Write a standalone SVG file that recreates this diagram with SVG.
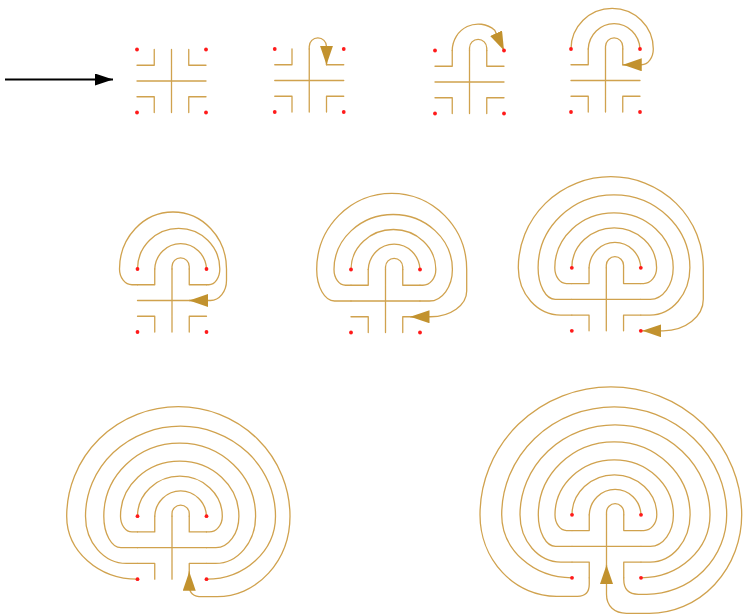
<svg xmlns="http://www.w3.org/2000/svg" xmlns:xlink="http://www.w3.org/1999/xlink" width="743" height="616" viewBox="0 0 743 616">
<style>
.w{fill:none;stroke:#d0a24e;stroke-width:1.3;stroke-linecap:round;stroke-linejoin:round}
.d{fill:#ff1a1a;stroke:none}
</style>
<defs>
<marker id="ah" viewBox="0 0 19 13" refX="19" refY="6.5" markerWidth="19" markerHeight="13" markerUnits="userSpaceOnUse" orient="auto"><path d="M0,0L19,6.5L0,13z" fill="#c2922e" stroke="none"/></marker>
<marker id="bk" viewBox="0 0 18 12" refX="18" refY="6" markerWidth="18" markerHeight="12" markerUnits="userSpaceOnUse" orient="auto"><path d="M0,0L18,6L0,12z" fill="#000"/></marker>
<path id="seed" d="M0,-31.5V31.5M-34.5,0H34.5M-17.25,-31.5V-15.75H-34.5M17.25,-31.5V-15.75H34.5M-34.5,15.75H-17.25V31.5M34.5,15.75H17.25V31.5"/>
<g id="dots" class="d"><circle cx="-34.5" cy="-31.5" r="1.9"/><circle cx="34.5" cy="-31.5" r="1.9"/><circle cx="-34.5" cy="31.5" r="1.9"/><circle cx="34.5" cy="31.5" r="1.9"/></g>
<path id="rA" d="M0,-31.5V-34A8.6,8.6 0 0 1 17.25,-34V-31.5"/>
<path id="rB" d="M-17.25,-31.5A25.9,26.5 0 0 1 34.5,-31.5"/>
<path id="rC" d="M-34.5,-31.5A42.4,40 0 0 1 50.3,-31.5A13,15.75 0 0 1 37.3,-15.75H34.5"/>
<path id="rD" d="M-34.5,-15.75H-40A11.5,15.75 0 0 1 -51.5,-31.5A59.2,55 0 0 1 66.9,-31.5A23,31.5 0 0 1 43.9,0H34.5"/>
<path id="rE" d="M-34.5,0H-51A17.2,31.5 0 0 1 -68.2,-31.5A75.9,73 0 0 1 83.6,-31.5A40,47.25 0 0 1 43.6,15.75H34.5"/>
<path id="rF" d="M-34.5,15.75H-45.5A41,47.25 0 0 1 -86.5,-31.5A95,90 0 0 1 103.5,-31.5A69,63 0 0 1 34.5,31.5"/>
<path id="rG" d="M-34.5,31.5A70.3,63 0 0 1 -104.8,-31.5A112.5,108 0 0 1 120.2,-31.5A80,79.5 0 0 1 40.2,48H32Q17.25,48 17.25,33V31.5"/>
</defs>
<rect width="743" height="616" fill="#fff"/>
<g id="connectors"><path d="M5,79.5H113" stroke="#000" stroke-width="2" fill="none" marker-end="url(#bk)"/></g>
<g id="step1" class="w" transform="translate(171.5,81)"><use xlink:href="#seed"/><use xlink:href="#dots"/></g>
<g id="step2" class="w" transform="translate(309.25,80.5)"><use xlink:href="#seed"/><path d="M0,-31.5V-34A8.6,8.6 0 0 1 17.25,-34V-15.75" marker-end="url(#ah)"/><use xlink:href="#dots"/></g>
<g id="step3" class="w" transform="translate(469.5,82)"><use xlink:href="#seed"/><use xlink:href="#rA"/><path d="M-17.25,-31.5A25.9,26.5 0 0 1 25.25,-51.8L34.5,-31.5" marker-end="url(#ah)"/><use xlink:href="#dots"/></g>
<g id="step4" class="w" transform="translate(605.5,80.5)"><use xlink:href="#seed"/><use xlink:href="#rA"/><use xlink:href="#rB"/><path d="M-34.5,-31.5A41.15,40.7 0 0 1 47.8,-31.5A11.8,15.75 0 0 1 36,-15.75H17.25" marker-end="url(#ah)"/><use xlink:href="#dots"/></g>
<g id="step5" class="w" transform="translate(172,300.5)"><use xlink:href="#seed"/><use xlink:href="#rA"/><use xlink:href="#rB"/><path d="M-34.5,-31.5A41.15,40.7 0 0 1 47.8,-31.5A11,15.75 0 0 1 36.8,-15.75H34.5"/><path d="M-34.5,-15.75H-40A12.5,15.75 0 0 1 -52.5,-31.5A53.5,57 0 0 1 54.5,-31.5V-20A16,20 0 0 1 38.5,0H17.25" marker-end="url(#ah)"/><use xlink:href="#dots"/></g>
<g id="step6" class="w" transform="translate(385.5,301)"><use xlink:href="#seed"/><use xlink:href="#rA"/><use xlink:href="#rB"/><use xlink:href="#rC"/><use xlink:href="#rD"/><path d="M-34.5,0H-51A17.8,31.5 0 0 1 -68.8,-31.5A75,76.2 0 0 1 81.2,-31.5V-10A36.2,25.75 0 0 1 45,15.75H25" marker-end="url(#ah)"/><use xlink:href="#dots"/></g>
<g id="step7" class="w" transform="translate(606.3,299.3)"><use xlink:href="#seed"/><use xlink:href="#rA"/><use xlink:href="#rB"/><use xlink:href="#rC"/><use xlink:href="#rD"/><use xlink:href="#rE"/><path d="M-34.5,15.75H-45.5A42.5,47.25 0 0 1 -88,-31.5A92.5,91.1 0 0 1 97,-31.5V0A40,31.5 0 0 1 57,31.5H36" marker-end="url(#ah)"/><use xlink:href="#dots"/></g>
<g id="step8" class="w" transform="translate(172,547.7)"><use xlink:href="#seed"/><use xlink:href="#rA"/><use xlink:href="#rB"/><use xlink:href="#rC"/><use xlink:href="#rD"/><use xlink:href="#rE"/><use xlink:href="#rF"/><path d="M-34.5,31.5A70.8,63 0 0 1 -105.3,-31.5A111.65,109.5 0 0 1 118,-31.5A73,80.5 0 0 1 45,49H30Q17.25,49 17.25,38V24" marker-end="url(#ah)"/><use xlink:href="#dots"/></g>
<g id="step9" class="w" transform="translate(606.5,546.3)"><use xlink:href="#seed"/><use xlink:href="#rA"/><use xlink:href="#rB"/><use xlink:href="#rC"/><use xlink:href="#rD"/><use xlink:href="#rE"/><use xlink:href="#rF"/><use xlink:href="#rG"/><path d="M-17.25,31.5V38Q-17.25,50 -29,50H-50A76.5,81.5 0 0 1 -126.5,-31.5A130.85,128 0 0 1 135.2,-31.5A92.2,98.5 0 0 1 43,67H20C8,67 0,60 0,48V18.7" marker-end="url(#ah)"/><use xlink:href="#dots"/></g>
</svg>
